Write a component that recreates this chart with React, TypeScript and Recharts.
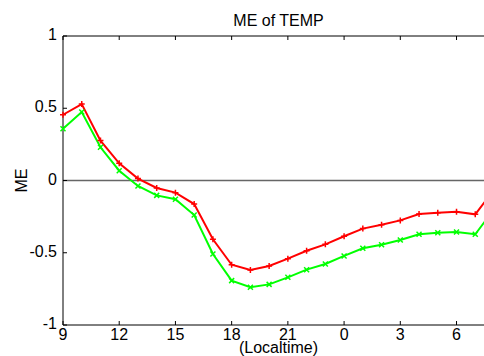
import { LineChart, Line, XAxis, YAxis, ReferenceLine } from 'recharts'

// hours since 09 local time of day 1 (24 = 0h next day)
const hours = [9, 10, 11, 12, 13, 14, 15, 16, 17, 18, 19, 20, 21, 22, 23, 24, 25, 26, 27, 28, 29, 30, 31, 32]
const redME = [0.455, 0.529, 0.276, 0.119, 0.013, -0.052, -0.084, -0.163, -0.407, -0.583, -0.619, -0.592, -0.541, -0.486, -0.442, -0.386, -0.333, -0.306, -0.276, -0.232, -0.223, -0.216, -0.234, -0.064]
const greenME = [0.358, 0.474, 0.23, 0.068, -0.038, -0.103, -0.13, -0.239, -0.509, -0.693, -0.739, -0.719, -0.67, -0.617, -0.578, -0.522, -0.469, -0.444, -0.412, -0.372, -0.361, -0.356, -0.372, -0.2]
const xTicks = [9, 12, 15, 18, 21, 24, 27, 30]
const yTicks = [-1, -0.5, 0, 0.5, 1]

const data = hours.map((h, i) => ({ hour: h, red: redME[i], green: greenME[i] }))

const FONT = '"Liberation Sans", Arial, sans-serif'

function BottomTick({ x, y, payload }: any) {
  return (
    <g>
      <line x1={x} x2={x} y1={y} y2={y - 4} stroke="#000" />
      <text x={x} y={y + 15} textAnchor="middle" fontSize={16} fontFamily={FONT} fill="#000">
        {payload.value % 24}
      </text>
    </g>
  )
}

function TopTick({ x, y }: any) {
  return <line x1={x} x2={x} y1={y} y2={y + 4} stroke="#000" />
}

function LeftTick({ x, y, payload }: any) {
  return (
    <g>
      <line x1={x} x2={x + 4} y1={y} y2={y} stroke="#000" />
      <text x={x - 6} y={y + 4} textAnchor="end" fontSize={16} fontFamily={FONT} fill="#000">
        {payload.value}
      </text>
    </g>
  )
}

function PlusDot({ cx, cy }: any) {
  return <path d={`M${cx - 3},${cy}H${cx + 3}M${cx},${cy - 3}V${cy + 3}`} stroke="#ff0000" strokeWidth={1.5} />
}

function CrossDot({ cx, cy }: any) {
  return (
    <path
      d={`M${cx - 2.5},${cy - 2.5}L${cx + 2.5},${cy + 2.5}M${cx - 2.5},${cy + 2.5}L${cx + 2.5},${cy - 2.5}`}
      stroke="#00ff00"
      strokeWidth={1.5}
    />
  )
}

export default function App() {
  return (
    <div style={{ position: 'absolute', left: 0, top: 0, width: 484, height: 356, overflow: 'hidden', background: '#fff' }}>
      <LineChart width={520} height={356} data={data} margin={{ top: 0, right: 26, bottom: 0, left: 0 }}>
        <XAxis
          dataKey="hour"
          type="number"
          domain={[9, 32]}
          ticks={xTicks}
          xAxisId="bottom"
          height={31}
          tickSize={0}
          tickMargin={0}
          tick={<BottomTick />}
          axisLine={{ stroke: '#000' }}
          label={{
            content: ({ viewBox }: any) => (
              <text x={viewBox.x + viewBox.width / 2} y={viewBox.y + 28} textAnchor="middle" fontSize={16} fontFamily={FONT} fill="#000">
                (Localtime)
              </text>
            ),
          }}
        />
        <XAxis
          dataKey="hour"
          type="number"
          domain={[9, 32]}
          ticks={xTicks}
          xAxisId="top"
          orientation="top"
          height={36}
          tickSize={0}
          tickMargin={0}
          tick={<TopTick />}
          axisLine={{ stroke: '#000' }}
          label={{
            content: ({ viewBox }: any) => (
              <text x={viewBox.x + viewBox.width / 2} y={viewBox.y + 26} textAnchor="middle" fontSize={16} fontFamily={FONT} fill="#000">
                ME of TEMP
              </text>
            ),
          }}
        />
        <YAxis
          type="number"
          domain={[-1, 1]}
          ticks={yTicks}
          width={63}
          tickSize={0}
          tickMargin={0}
          tick={<LeftTick />}
          axisLine={{ stroke: '#000' }}
          label={{
            content: ({ viewBox }: any) => (
              <text
                x={viewBox.x + 27}
                y={viewBox.y + viewBox.height / 2}
                textAnchor="middle"
                fontSize={16}
                fontFamily={FONT}
                fill="#000"
                transform={`rotate(-90 ${viewBox.x + 27} ${viewBox.y + viewBox.height / 2})`}
              >
                ME
              </text>
            ),
          }}
        />
        <ReferenceLine y={0} xAxisId="bottom" stroke="#666" strokeWidth={1.5} />
        <Line
          xAxisId="bottom"
          dataKey="red"
          stroke="#ff0000"
          strokeWidth={2}
          dot={<PlusDot />}
          isAnimationActive={false}
        />
        <Line
          xAxisId="bottom"
          dataKey="green"
          stroke="#00ff00"
          strokeWidth={2}
          dot={<CrossDot />}
          isAnimationActive={false}
        />
      </LineChart>
    </div>
  )
}
